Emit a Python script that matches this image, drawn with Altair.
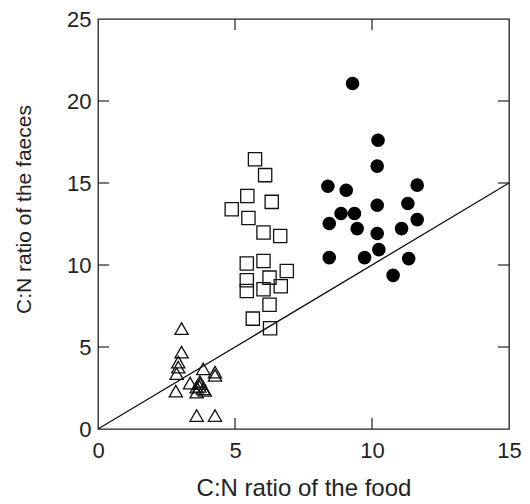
import altair as alt
import pandas as pd

# Triangles (open)
tri_x = [3.05, 3.05, 2.93, 2.93, 2.87, 2.84, 3.84, 4.27, 4.27, 3.36, 3.72, 3.60, 3.84, 3.60, 3.90, 3.60, 4.27, 3.72, 3.70]
tri_y = [6.12, 4.69, 4.08, 3.77, 3.37, 2.31, 3.67, 3.47, 3.27, 2.80, 2.76, 2.55, 2.45, 2.25, 2.35, 0.82, 0.82, 2.90, 2.60]

# Squares (open)
sq_x = [5.73, 6.10, 5.45, 4.88, 6.34, 5.49, 6.04, 6.65,
        5.43, 6.04, 6.89, 5.43, 6.26, 5.43, 6.04, 6.67, 6.26, 5.65, 6.28]
sq_y = [16.45, 15.48, 14.21, 13.40, 13.85, 12.87, 11.98, 11.77,
        10.09, 10.24, 9.63, 9.07, 9.23, 8.41, 8.52, 8.70, 7.58, 6.73, 6.14]

# Circles (filled)
ci_x = [9.29, 10.22, 10.19, 8.39, 9.06, 11.65, 10.19, 11.31, 8.87, 9.36,
        8.44, 9.46, 11.65, 11.08, 10.19, 10.25, 8.44, 9.73, 11.34, 10.77]
ci_y = [21.07, 17.61, 16.03, 14.80, 14.56, 14.87, 13.64, 13.75, 13.14, 13.14,
        12.53, 12.22, 12.77, 12.22, 11.92, 10.94, 10.45, 10.45, 10.39, 9.37]

line_x = [0, 15]
line_y = [0, 15]

x_ticks = [5, 10]
y_ticks = [5, 10, 15, 20]

W, H = 411, 410
FONT = "Liberation Sans"

xs = alt.Scale(domain=[0, 15], nice=False, zero=False)
ys = alt.Scale(domain=[0, 25], nice=False, zero=False)

xaxis = alt.Axis(values=[0, 5, 10, 15], tickSize=0, domain=False, grid=False,
                 labelFontSize=22, labelPadding=11, labelColor="#222", labelFont=FONT,
                 labelFlush=False, labelOverlap=False,
                 title="C:N ratio of the food", titleFontSize=24, titleFont=FONT,
                 titleFontWeight="normal", titleColor="#222", titlePadding=15)
yaxis = alt.Axis(values=[0, 5, 10, 15, 20, 25], tickSize=0, domain=False, grid=False,
                 labelFontSize=22, labelPadding=7, labelColor="#222", labelFont=FONT,
                 labelFlush=False, labelOverlap=False,
                 title="C:N ratio of the faeces", titleFontSize=21, titleFont=FONT,
                 titleFontWeight="normal", titleColor="#222", titlePadding=32,
                 titleY=190)

X = lambda f: alt.X(f, scale=xs, axis=xaxis)
Y = lambda f: alt.Y(f, scale=ys, axis=yaxis)

df_line = pd.DataFrame({"x": line_x, "y": line_y})
line = alt.Chart(df_line).mark_line(color="#111", strokeWidth=1.3).encode(
    x=X("x:Q"), y=Y("y:Q"))

df_tri = pd.DataFrame({"x": tri_x, "y": tri_y})
tri = alt.Chart(df_tri).mark_point(shape="triangle-up", size=175, filled=False,
                                   color="#111", strokeWidth=1.3, opacity=1).encode(
    x=X("x:Q"), y=Y("y:Q"))

df_sq = pd.DataFrame({"x": sq_x, "y": sq_y})
sq = alt.Chart(df_sq).mark_point(shape="square", size=175, filled=False,
                                 color="#111", strokeWidth=1.3, opacity=1).encode(
    x=X("x:Q"), y=Y("y:Q"))

df_ci = pd.DataFrame({"x": ci_x, "y": ci_y})
ci = alt.Chart(df_ci).mark_point(shape="circle", size=185, filled=True,
                                 color="#000", opacity=1).encode(
    x=X("x:Q"), y=Y("y:Q"))

TL = 11
df_xt = pd.DataFrame({"x": x_ticks})
df_yt = pd.DataFrame({"y": y_ticks})
xt_bot = alt.Chart(df_xt).mark_rule(color="#222", strokeWidth=1.2).encode(
    x=X("x:Q"), y=alt.value(H), y2=alt.value(H - TL))
xt_top = alt.Chart(df_xt).mark_rule(color="#222", strokeWidth=1.2).encode(
    x=X("x:Q"), y=alt.value(0), y2=alt.value(TL))
yt_left = alt.Chart(df_yt).mark_rule(color="#222", strokeWidth=1.2).encode(
    y=Y("y:Q"), x=alt.value(0), x2=alt.value(TL))
yt_right = alt.Chart(df_yt).mark_rule(color="#222", strokeWidth=1.2).encode(
    y=Y("y:Q"), x=alt.value(W), x2=alt.value(W - TL))

chart = alt.layer(line, xt_bot, xt_top, yt_left, yt_right, tri, sq, ci).properties(
    width=W, height=H,
    autosize=alt.AutoSizeParams(type="none"),
    padding={"left": 98, "top": 19, "right": 21, "bottom": 75},
    background="white",
).configure_view(stroke="#222", strokeWidth=1.3)

chart.save("out.html", embed_options={"renderer": "svg", "actions": False})
